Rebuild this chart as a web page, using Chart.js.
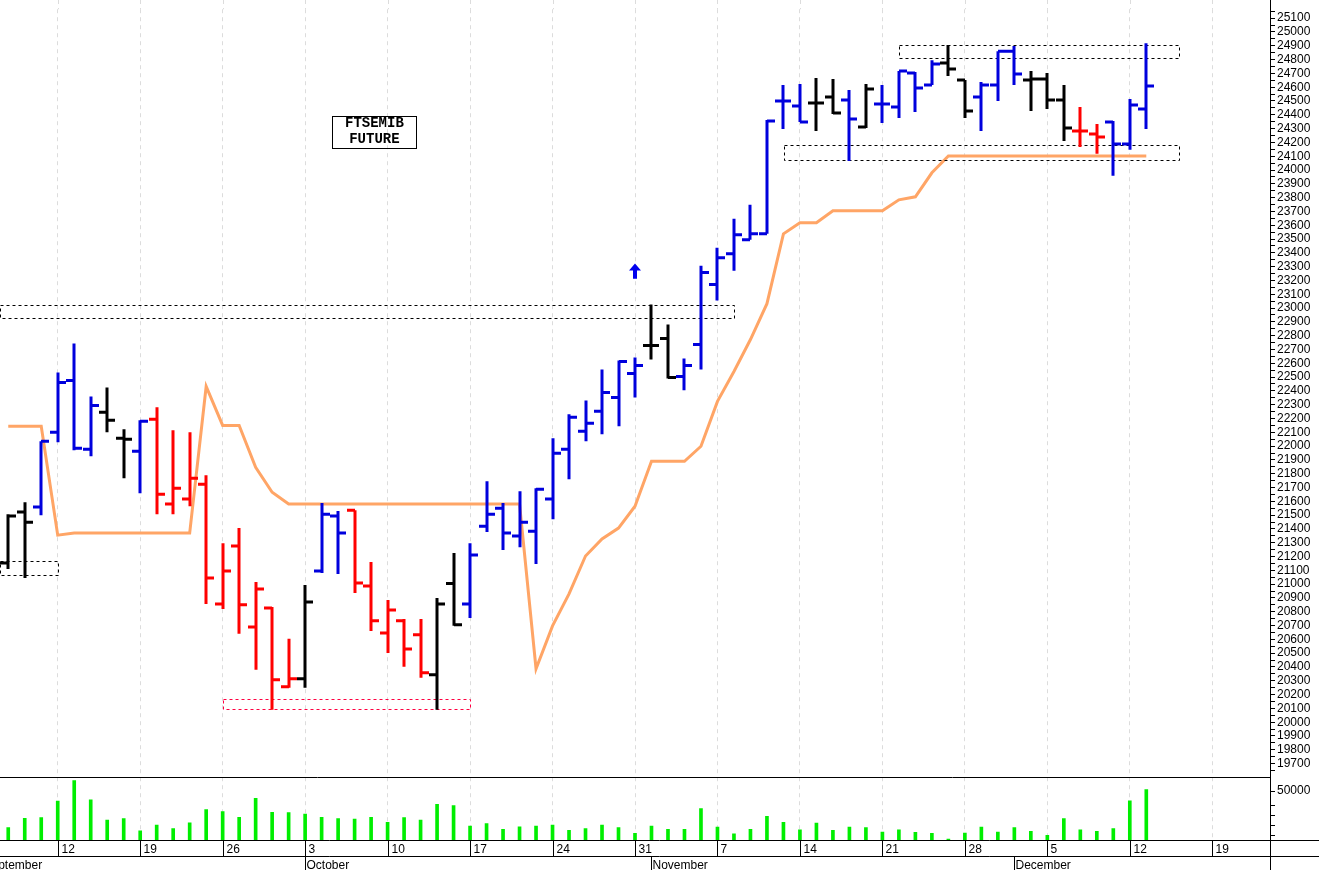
<!DOCTYPE html>
<html><head><meta charset="utf-8">
<script src="https://cdn.jsdelivr.net/npm/chart.js@4.4.0/dist/chart.umd.min.js"></script>
<style>html,body{margin:0;padding:0;background:#fff;}canvas{display:block;}</style>
</head><body>
<canvas id="c" width="1319" height="870"></canvas>
<script>
const dates = ["Sep 7","Sep 8","Sep 9","Sep 12","Sep 13","Sep 14","Sep 15","Sep 16","Sep 19","Sep 20","Sep 21","Sep 22","Sep 23","Sep 26","Sep 27","Sep 28","Sep 29","Sep 30",
"Oct 3","Oct 4","Oct 5","Oct 6","Oct 7","Oct 10","Oct 11","Oct 12","Oct 13","Oct 14","Oct 17","Oct 18","Oct 19","Oct 20","Oct 21","Oct 24","Oct 25","Oct 26","Oct 27","Oct 28","Oct 31",
"Nov 1","Nov 2","Nov 3","Nov 4","Nov 7","Nov 8","Nov 9","Nov 10","Nov 11","Nov 14","Nov 15","Nov 16","Nov 17","Nov 18","Nov 21","Nov 22","Nov 23","Nov 24","Nov 25","Nov 28","Nov 29","Nov 30",
"Dec 1","Dec 2","Dec 5","Dec 6","Dec 7","Dec 8","Dec 9","Dec 12","Dec 13"];
const openV  = [21153,21522,21558,22100,22476,21977,22245,22057,21963,22194,21580,21616,21724,20857,21276,20690,20828,20257,
20315,21095,21493,21536,20987,20647,20734,20633,20343,21004,20857,21420,21550,21348,21384,21616,21977,22107,22252,22353,22526,
22729,22780,22505,22736,23170,23394,23495,23538,24500,24464,24486,24529,24507,24312,24478,24457,24703,24616,24775,24652,24529,24616,
24861,24652,24659,24507,24283,24261,24348,24189,24442];
const highV  = [21507,21594,22035,22534,22743,22360,22425,22122,22187,22281,22115,22100,21789,21297,21406,21015,20835,20604,
20994,21587,21529,21536,21160,20885,20748,20748,20900,21225,21297,21746,21587,21673,21695,22057,22230,22331,22555,22620,22642,
23025,22881,22635,23307,23437,23647,23748,24363,24616,24623,24666,24659,24580,24623,24616,24717,24710,24796,24905,24652,24637,24861,
24898,24717,24703,24616,24457,24334,24355,24514,24919];
const lowV   = [21110,21045,21500,22028,21970,21926,22100,21767,21659,21507,21507,21565,20857,20820,20640,20379,20090,20250,
20250,21080,21073,20936,20661,20502,20401,20322,20090,20698,20755,21377,21247,21268,21146,21471,21760,22035,22086,22143,22353,
22628,22490,22404,22555,23054,23271,23495,23538,24298,24348,24283,24406,24066,24305,24341,24377,24420,24616,24681,24377,24283,24500,
24616,24428,24442,24211,24167,24117,23958,24146,24298];
const closeV = [21493,21449,22035,22461,21984,22295,22187,22050,22180,21652,21695,21767,21045,21095,20850,20965,20307,20315,
20871,21507,21370,21008,20734,20813,20531,20358,20857,20705,21211,21507,21370,21449,21688,21948,22209,22165,22389,22613,22584,
22729,22497,22584,23257,23365,23531,23538,24355,24500,24348,24486,24413,24370,24587,24478,24717,24594,24768,24731,24428,24616,24861,
24695,24659,24507,24305,24283,24240,24189,24471,24608];
const barColor = "kkbbbbkkbrrrrrrrrrkbbrrrrrkkbbbbbbbbbbbkkbbbbbbbbkkbkbbbbkkbbbkkkrrbb";
const stopLine = [22143,22143,22143,21355,21370,21370,21370,21370,21370,21370,21370,21370,22432,22150,22150,21847,21666,21580,
21580,21580,21580,21580,21580,21580,21580,21580,21580,21580,21580,21580,21580,21580,20387,20698,20929,21204,21327,21406,21565,
21890,21890,21890,21999,22324,22541,22772,23032,23538,23618,23618,23705,23705,23705,23705,23784,23806,23980,24102,24102,24102,24102,
24102,24102,24102,24102,24102,24102,24102,24102,24102];
const volume = [12800,22300,23000,39900,60800,41200,20300,22000,9500,15200,11800,17600,31100,29100,23300,42600,28400,28000,
26400,23300,22000,21300,23300,18200,23000,20300,36500,35100,14200,16900,10800,13500,14200,15200,9800,11800,15200,12800,6800,
14200,10800,10800,32100,13200,6400,10800,24300,18200,10500,17200,9800,13200,12800,8100,10500,7800,6800,1000,7100,13200,8100,
12800,8800,4700,22000,10500,8800,11800,40200,51700];
const weekTickIdx = [3,8,13,18,23,28,33,38,43,48,53,58,63,68,73];
const weekTickLabels = ["12","19","26","3","10","17","24","31","7","14","21","28","5","12","19"];
const monthIdx = [-1.6,18,39,61];
const monthLabels = ["September","October","November","December"];
const priceTicks = [19700,19800,19900,20000,20100,20200,20300,20400,20500,20600,20700,20800,20900,21000,21100,21200,21300,21400,21500,21600,21700,21800,21900,22000,22100,22200,22300,22400,22500,22600,22700,22800,22900,23000,23100,23200,23300,23400,23500,23600,23700,23800,23900,24000,24100,24200,24300,24400,24500,24600,24700,24800,24900,25000,25100];
const volTicks = [5000,15000,25000,35000,50000];
const boxes = [[-0.5,3,21167,21066,"#000"],[-0.5,44,23025,22931,"#000"],[13.03,28,20170,20098,"#ff0040"],[47.03,70.97,24182,24073,"#000"],[54,70.97,24905,24811,"#000"]];
const arrowPt = [38, 23322, 23213];
const titleLines = ["FTSEMIB","FUTURE"];
const titlePos = [22.2, 24276];

const colMap = {b:"#0000dd", r:"#ff0000", k:"#000000"};
const RIGHT_W = 49;

const drawPlugin = {
  id:'draw',
  beforeDatasetsDraw(chart){
    const ctx = chart.ctx, x = chart.scales.x, ca = chart.chartArea;
    ctx.save(); ctx.strokeStyle='#dcdcdc'; ctx.lineWidth=1; ctx.setLineDash([4,4]);
    weekTickIdx.forEach(t=>{ const px=Math.round(x.getPixelForValue(t))+0.5; ctx.beginPath(); ctx.moveTo(px,0); ctx.lineTo(px,ca.top); ctx.stroke(); });
    ctx.restore();
  },
  afterDatasetsDraw(chart){
    const ctx = chart.ctx, x = chart.scales.x, y = chart.scales.y, ca = chart.chartArea;
    ctx.save();
    ctx.beginPath(); ctx.rect(ca.left, 0, ca.right-ca.left, 900); ctx.clip();
    ctx.lineWidth = 1; ctx.setLineDash([3,3]);
    boxes.forEach(b=>{
      ctx.strokeStyle = b[4];
      const x0 = Math.round(x.getPixelForValue(b[0]))+0.5, x1 = Math.round(x.getPixelForValue(b[1]))+0.5;
      const y0 = Math.round(y.getPixelForValue(b[2]))+0.5, y1 = Math.round(y.getPixelForValue(b[3]))+0.5;
      ctx.strokeRect(x0,y0,x1-x0,y1-y0);
    });
    ctx.setLineDash([]);
    ctx.lineWidth = 3; ctx.lineCap = 'butt';
    for(let i=0;i<openV.length;i++){
      const px = Math.round(x.getPixelForValue(i));
      ctx.strokeStyle = colMap[barColor[i]];
      ctx.beginPath();
      ctx.moveTo(px, y.getPixelForValue(highV[i])); ctx.lineTo(px, y.getPixelForValue(lowV[i]));
      const yo = y.getPixelForValue(openV[i]), yc = y.getPixelForValue(closeV[i]);
      ctx.moveTo(px-8, yo); ctx.lineTo(px, yo);
      ctx.moveTo(px, yc); ctx.lineTo(px+8, yc);
      ctx.stroke();
    }
    const ax = x.getPixelForValue(arrowPt[0]), at = y.getPixelForValue(arrowPt[1]), ab = y.getPixelForValue(arrowPt[2]);
    ctx.fillStyle = "#0000ee";
    ctx.beginPath(); ctx.moveTo(ax, at); ctx.lineTo(ax+6, at+7); ctx.lineTo(ax+2, at+7); ctx.lineTo(ax+2, ab);
    ctx.lineTo(ax-2, ab); ctx.lineTo(ax-2, at+7); ctx.lineTo(ax-6, at+7); ctx.closePath(); ctx.fill();
    const tx = x.getPixelForValue(titlePos[0]), ty = y.getPixelForValue(titlePos[1]);
    ctx.font = "bold 14px 'Liberation Mono'"; ctx.textAlign='center'; ctx.textBaseline='middle'; ctx.fillStyle="#000";
    ctx.fillText(titleLines[0], tx, ty-8); ctx.fillText(titleLines[1], tx, ty+8);
    ctx.lineWidth = 1; ctx.strokeStyle="#000";
    ctx.strokeRect(Math.round(tx-42)+0.5, Math.round(ty-16)+0.5, 84, 32);
    ctx.restore();

    ctx.save();
    const yv = chart.scales.yv;
    const volBottom = Math.round(yv.bottom)+0.5, volTop = Math.round(yv.top)+0.5;
    ctx.strokeStyle="#000"; ctx.lineWidth=1;
    ctx.beginPath();
    ctx.moveTo(0, volTop); ctx.lineTo(ca.right, volTop);
    ctx.moveTo(0, volBottom); ctx.lineTo(ca.right+RIGHT_W, volBottom);
    ctx.moveTo(0, volBottom+16); ctx.lineTo(ca.right+RIGHT_W, volBottom+16);
    ctx.moveTo(ca.right+0.5, 0); ctx.lineTo(ca.right+0.5, 870);
    ctx.stroke();
    ctx.font = "12px 'Liberation Sans'"; ctx.fillStyle="#000"; ctx.textAlign='left'; ctx.textBaseline='middle';
    weekTickIdx.forEach((t,k)=>{
      const px = Math.round(x.getPixelForValue(t))+0.5;
      ctx.beginPath(); ctx.moveTo(px, volBottom); ctx.lineTo(px, volBottom+16); ctx.stroke();
      ctx.fillText(weekTickLabels[k], px+3, volBottom+9);
    });
    monthIdx.forEach((t,k)=>{
      const px = Math.round(x.getPixelForValue(t))+0.5;
      ctx.beginPath(); ctx.moveTo(px, volBottom+16); ctx.lineTo(px, volBottom+32); ctx.stroke();
      ctx.fillText(monthLabels[k], px+1, volBottom+25);
    });
    ctx.restore();
  }
};

new Chart(document.getElementById('c'), {
  data: {
    labels: dates,
    datasets: [
      {type:'line', data: stopLine.map((v,i)=>({x:i,y:v})), yAxisID:'y', borderColor:'#ffa566', borderWidth:3, pointRadius:0, tension:0, order:2},
      {type:'bar', data: volume.map((v,i)=>({x:i,y:v})), yAxisID:'yv', backgroundColor:'#00ee00', barThickness:3, order:1}
    ]
  },
  options: {
    responsive:false, animation:false, devicePixelRatio:1,
    layout:{padding:{left:0,right:0,top:-17,bottom:30}},
    plugins:{legend:{display:false}, tooltip:{enabled:false}},
    scales:{
      x:{type:'linear', min:-0.5, max:76.5, offset:false,
        afterBuildTicks(s){ s.ticks = weekTickIdx.map(v=>({value:v})); },
        ticks:{display:false}, grid:{color:'#dcdcdc', offset:false, drawTicks:false}, border:{display:false, dash:[4,4]}},
      y:{type:'linear', position:'right', stack:'v', stackWeight:12.1, min:19606, max:25165,
        afterBuildTicks(s){ const t=[]; priceTicks.forEach(v=>{t.push({value:v}); t.push({value:v+50});}); t.push({value:19650}); s.ticks=t.filter(o=>o.value<=25160).sort((a,b)=>a.value-b.value); },
        afterFit(s){ s.width = RIGHT_W; },
        ticks:{color:'#000', font:{family:'Liberation Sans', size:12}, padding:2, autoSkip:false, callback:(v)=> v%100===0? String(v):''},
        grid:{drawOnChartArea:false, color:'#000', tickLength:5}, border:{color:'#000'}},
      yv:{type:'linear', position:'right', stack:'v', stackWeight:1, min:0, max:64900,
        afterBuildTicks(s){ s.ticks = volTicks.map(v=>({value:v})); },
        afterFit(s){ s.width = RIGHT_W; },
        ticks:{color:'#000', font:{family:'Liberation Sans', size:12}, padding:2, autoSkip:false, callback:(v)=> v===50000?'50000':''},
        grid:{drawOnChartArea:false, color:'#000', tickLength:5}, border:{color:'#000'}}
    }
  },
  plugins:[drawPlugin]
});
</script>
</body></html>
